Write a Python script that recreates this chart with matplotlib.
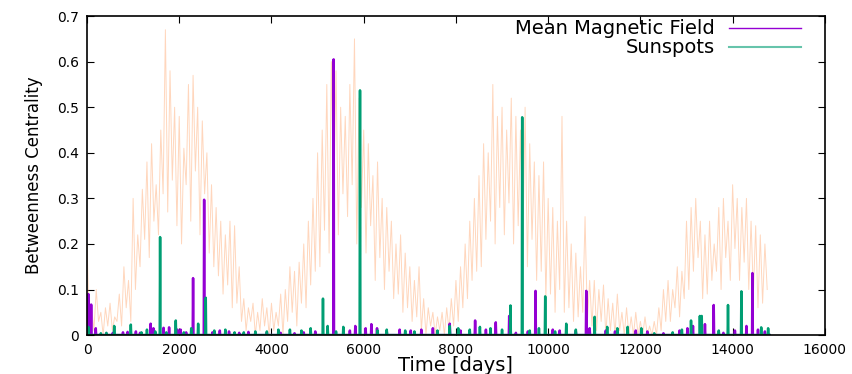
import matplotlib
matplotlib.use('Agg')
import matplotlib.pyplot as plt
import numpy as np

# Background activity series (orange), one value every 50 days from day 0
bg_step = 50
bg_values = [
    0.20, 0.02, 0.06, 0.01, 0.10, 0.03, 0.05, 0.00, 0.06, 0.02, 0.07, 0.01, 0.04, 0.03, 0.09, 0.02, 0.15, 0.06, 0.12, 0.03,
    0.30, 0.10, 0.22, 0.15, 0.32, 0.21, 0.38, 0.17, 0.42, 0.25, 0.33, 0.22, 0.45, 0.31, 0.67, 0.27, 0.58, 0.34, 0.50, 0.24,
    0.48, 0.20, 0.41, 0.33, 0.55, 0.25, 0.57, 0.36, 0.50, 0.22, 0.47, 0.31, 0.40, 0.18, 0.33, 0.15, 0.28, 0.13, 0.25, 0.09,
    0.22, 0.11, 0.25, 0.06, 0.24, 0.07, 0.15, 0.03, 0.08, 0.01, 0.06, 0.03, 0.07, 0.00, 0.05, 0.01, 0.08, 0.02, 0.06, 0.00,
    0.07, 0.01, 0.05, 0.02, 0.09, 0.00, 0.10, 0.03, 0.15, 0.05, 0.14, 0.02, 0.16, 0.07, 0.20, 0.06, 0.25, 0.11, 0.30, 0.14,
    0.40, 0.15, 0.45, 0.23, 0.55, 0.18, 0.60, 0.29, 0.58, 0.22, 0.50, 0.31, 0.48, 0.26, 0.55, 0.33, 0.65, 0.20, 0.52, 0.28,
    0.45, 0.18, 0.42, 0.24, 0.35, 0.12, 0.38, 0.17, 0.30, 0.10, 0.28, 0.14, 0.25, 0.08, 0.20, 0.09, 0.22, 0.05, 0.18, 0.06,
    0.15, 0.03, 0.12, 0.04, 0.15, 0.01, 0.08, 0.00, 0.06, 0.02, 0.05, 0.00, 0.04, 0.01, 0.05, 0.00, 0.06, 0.01, 0.08, 0.02,
    0.12, 0.03, 0.15, 0.06, 0.20, 0.08, 0.25, 0.12, 0.30, 0.14, 0.35, 0.15, 0.42, 0.21, 0.40, 0.25, 0.55, 0.20, 0.48, 0.28,
    0.50, 0.22, 0.45, 0.29, 0.52, 0.20, 0.48, 0.24, 0.45, 0.19, 0.50, 0.15, 0.42, 0.21, 0.38, 0.12, 0.35, 0.14, 0.38, 0.08,
    0.30, 0.09, 0.28, 0.05, 0.25, 0.10, 0.48, 0.05, 0.25, 0.06, 0.20, 0.03, 0.18, 0.04, 0.15, 0.05, 0.26, 0.03, 0.12, 0.02,
    0.12, 0.01, 0.10, 0.03, 0.11, 0.00, 0.08, 0.01, 0.07, 0.00, 0.09, 0.01, 0.05, 0.00, 0.06, 0.00, 0.04, 0.00, 0.05, 0.00,
    0.03, 0.00, 0.04, 0.00, 0.02, 0.00, 0.03, 0.00, 0.06, 0.01, 0.10, 0.03, 0.12, 0.03, 0.10, 0.06, 0.15, 0.04, 0.14, 0.08,
    0.25, 0.10, 0.28, 0.14, 0.30, 0.17, 0.25, 0.08, 0.22, 0.09, 0.25, 0.12, 0.20, 0.14, 0.28, 0.10, 0.30, 0.17, 0.25, 0.12,
    0.33, 0.19, 0.30, 0.12, 0.28, 0.16, 0.30, 0.10, 0.25, 0.09, 0.24, 0.06, 0.22, 0.07, 0.20, 0.10,
]

# Mean Magnetic Field spikes: (day, betweenness)
mag_days = [30, 90, 190, 420, 560, 780, 880, 1060, 1150, 1380, 1440, 1660, 1780, 1960, 2030, 2150,
            2300, 2540, 2720, 2880, 3080, 3300, 3500, 3900, 4200, 4500, 4700, 4950, 5348, 5700,
            5818, 6042, 6166, 6289, 6500, 6780, 7020, 7250, 7500, 7866, 8100, 8416, 8650, 8864,
            9155, 9300, 9560, 9726, 10100, 10250, 10600, 10826, 10900, 11250, 11450, 11900, 12150,
            12500, 12850, 13020, 13140, 13400, 13590, 13800, 14050, 14300, 14430, 14550, 14700]
mag_vals = [0.090, 0.067, 0.015, 0.004, 0.005, 0.006, 0.007, 0.008, 0.005, 0.025, 0.015, 0.016, 0.017, 0.012, 0.012, 0.006,
            0.125, 0.297, 0.006, 0.010, 0.008, 0.005, 0.007, 0.006, 0.005, 0.004, 0.006, 0.008, 0.605, 0.010,
            0.020, 0.015, 0.024, 0.015, 0.008, 0.012, 0.010, 0.012, 0.015, 0.025, 0.010, 0.032, 0.012, 0.028,
            0.042, 0.005, 0.008, 0.097, 0.012, 0.010, 0.008, 0.097, 0.015, 0.010, 0.008, 0.010, 0.008,
            0.004, 0.010, 0.015, 0.020, 0.024, 0.066, 0.005, 0.010, 0.020, 0.136, 0.012, 0.008]

# Sunspots spikes: (day, betweenness)
sun_days = [30, 300, 420, 590, 950, 1180, 1300, 1480, 1585, 1720, 1925, 2100, 2260, 2410, 2575, 2760,
            3000, 3200, 3400, 3650, 3900, 4150, 4400, 4650, 4850, 5117, 5218, 5400, 5558, 5920,
            6300, 6500, 6900, 7100, 7600, 7866, 8050, 8300, 8520, 8750, 9000, 9183, 9437, 9600,
            9800, 9936, 10150, 10392, 10600, 11007, 11280, 11500, 11723, 12020, 12300, 12700, 12900,
            13098, 13290, 13330, 13700, 13900, 14190, 14620, 14770]
sun_vals = [0.018, 0.004, 0.005, 0.020, 0.023, 0.006, 0.012, 0.008, 0.215, 0.006, 0.032, 0.006, 0.015, 0.025, 0.082, 0.010,
            0.012, 0.006, 0.006, 0.008, 0.008, 0.012, 0.012, 0.010, 0.015, 0.080, 0.020, 0.008, 0.018, 0.537,
            0.010, 0.012, 0.010, 0.008, 0.010, 0.020, 0.015, 0.012, 0.018, 0.015, 0.012, 0.065, 0.478, 0.010,
            0.015, 0.085, 0.008, 0.025, 0.012, 0.040, 0.018, 0.015, 0.018, 0.015, 0.004, 0.006, 0.012,
            0.032, 0.042, 0.042, 0.010, 0.066, 0.096, 0.017, 0.015]

last_day = 14800


def spike_series(days, vals, end):
    # daily series: zero everywhere except on the listed days
    xs, ys = [0], [0]
    for d, v in zip(days, vals):
        xs += [d - 8, d, d + 8]
        ys += [0, v, 0]
    xs.append(end)
    ys.append(0)
    return xs, ys


fig = plt.figure(figsize=(8.53, 3.74), dpi=100)
ax = fig.add_axes([0.102, 0.104, 0.865, 0.853])

bg_days = np.arange(len(bg_values)) * bg_step
ax.plot(bg_days, bg_values, color='#ff8c42', lw=0.7, alpha=0.35)

mx, my = spike_series(mag_days, mag_vals, last_day)
sx, sy = spike_series(sun_days, sun_vals, last_day)
ax.plot(mx, my, color='#9400d3', lw=1.8)
ax.plot(sx, sy, color='#009e73', lw=1.8)

ax.set_xlim(0, 16000)
ax.set_ylim(0, 0.7)
ax.set_xticks(np.arange(0, 16001, 2000))
ax.set_yticks(np.arange(0, 0.71, 0.1))
ax.set_yticklabels(['0', '0.1', '0.2', '0.3', '0.4', '0.5', '0.6', '0.7'])
ax.tick_params(direction='in', top=True, right=True, length=5, labelsize=10, pad=6)
for s in ax.spines.values():
    s.set_linewidth(1.2)

ax.set_xlabel('Time [days]', fontsize=14, labelpad=-1)
ax.set_ylabel('Betweenness Centrality', fontsize=12, labelpad=10)

# key in the top right, text right-aligned as in gnuplot
ax.text(0.851, 0.962, 'Mean Magnetic Field', transform=ax.transAxes,
        ha='right', va='center', fontsize=14)
ax.text(0.851, 0.903, 'Sunspots', transform=ax.transAxes,
        ha='right', va='center', fontsize=14)
ax.plot([0.870, 0.967], [0.962, 0.962], transform=ax.transAxes, color='#9400d3', lw=1)
ax.plot([0.870, 0.967], [0.903, 0.903], transform=ax.transAxes, color='#009e73', lw=1.5, alpha=0.6)

plt.savefig('out.png', dpi=100)
plt.close()
